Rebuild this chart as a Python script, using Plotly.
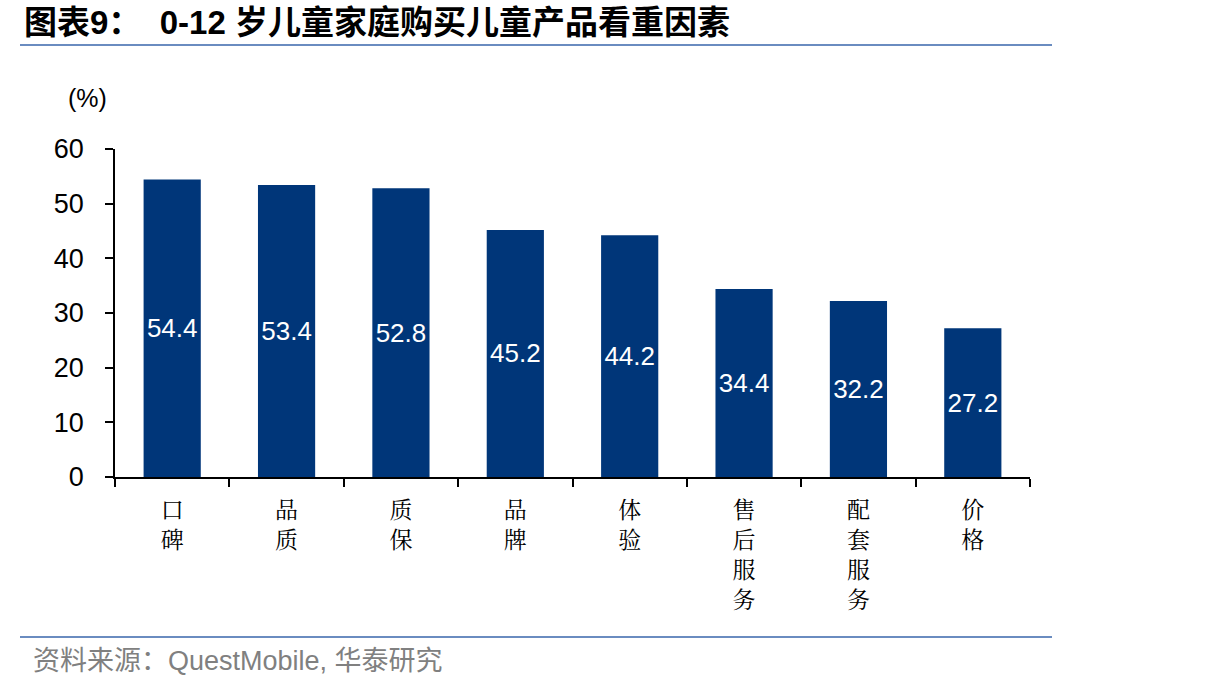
import plotly.graph_objects as go

categories = ["口<br>碑", "品<br>质", "质<br>保", "品<br>牌", "体<br>验", "售<br>后<br>服<br>务", "配<br>套<br>服<br>务", "价<br>格"]
values = [54.4, 53.4, 52.8, 45.2, 44.2, 34.4, 32.2, 27.2]
y_ticks = [0, 10, 20, 30, 40, 50, 60]

LAT = "Liberation Sans, Arial, Noto Sans CJK SC, sans-serif"

fig = go.Figure()
fig.add_trace(go.Bar(
    x=categories, y=values,
    marker=dict(color="#003679", line=dict(width=0)),
    width=0.5,
    text=[f"{v:.1f}" for v in values],
    textposition="inside", insidetextanchor="middle",
    textfont=dict(color="white", size=26, family=LAT),
    cliponaxis=False,
))

fig.update_layout(
    width=1208, height=692,
    margin=dict(l=115, r=178, t=149, b=215),
    paper_bgcolor="white", plot_bgcolor="white",
    showlegend=False,
    bargap=0.5,
    uniformtext=dict(minsize=26, mode="show"),
    font=dict(family=LAT, color="black"),
)
fig.update_xaxes(
    showline=True, linecolor="black", linewidth=1.5,
    ticks="outside", tickson="boundaries", ticklen=8, tickwidth=1.5, tickcolor="black",
    tickfont=dict(size=23, family="Noto Serif CJK SC, Noto Sans CJK SC, serif", color="black"),
    ticklabelstandoff=12,
    showgrid=False,
)
fig.update_yaxes(
    range=[0, 60], tickvals=y_ticks, ticktext=[str(t) for t in y_ticks],
    showline=True, linecolor="black", linewidth=1.5,
    ticks="outside", ticklen=8, tickwidth=1.5, tickcolor="black",
    tickfont=dict(size=27, color="black", family=LAT),
    ticklabelstandoff=16,
    showgrid=False, zeroline=False,
)

# title
fig.add_annotation(xref="paper", yref="paper", x=(22 - 115) / 915, y=1 + (149 - 23) / 328,
                   xanchor="left", yanchor="middle", showarrow=False,
                   text="<b>图表9：  0-12 岁儿童家庭购买儿童产品看重因素</b>",
                   font=dict(size=33, family=LAT, color="black"))
fig.add_annotation(xref="paper", yref="paper", x=(87 - 115) / 915, y=1 + (149 - 98) / 328,
                   xanchor="center", yanchor="middle", showarrow=False,
                   text="(%)", font=dict(size=25, color="black", family=LAT))
fig.add_annotation(xref="paper", yref="paper", x=(31 - 115) / 915, y=1 - (661 - 149) / 328,
                   xanchor="left", yanchor="middle", showarrow=False,
                   text="资料来源：QuestMobile, 华泰研究",
                   font=dict(size=27, family=LAT, color="#808080"))

# separator lines
fig.add_shape(type="line", xref="paper", yref="paper",
              x0=(20 - 115) / 915, x1=(1052 - 115) / 915,
              y0=1 + (149 - 45) / 328, y1=1 + (149 - 45) / 328,
              line=dict(color="#6a8cc0", width=2))
fig.add_shape(type="line", xref="paper", yref="paper",
              x0=(20 - 115) / 915, x1=(1052 - 115) / 915,
              y0=1 - (637 - 149) / 328, y1=1 - (637 - 149) / 328,
              line=dict(color="#6a8cc0", width=2))

fig.write_html("out.html")
